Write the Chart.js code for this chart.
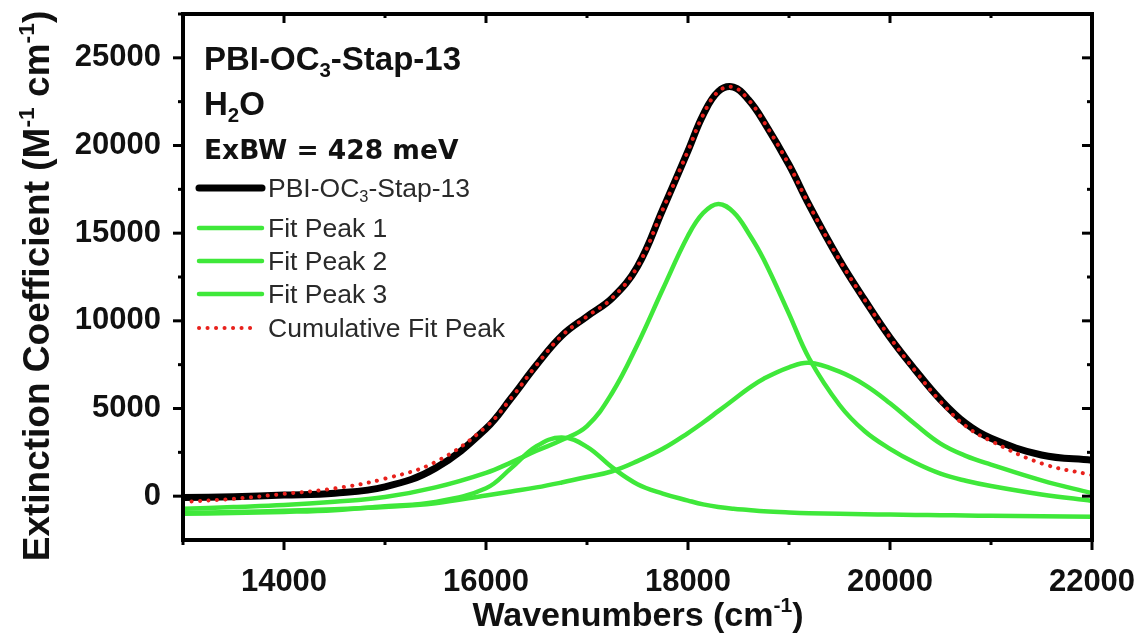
<!DOCTYPE html>
<html>
<head>
<meta charset="utf-8">
<script src="https://cdn.jsdelivr.net/npm/chart.js@4.4.0/dist/chart.umd.min.js"></script>
<style>
  html, body { margin: 0; padding: 0; background: #fff; }
  canvas { display: block; }
</style>
</head>
<body>
<canvas id="mycanvas" width="1140" height="636" style="width:1140px;height:636px"></canvas>
<script>
// values
var wavenumbers = [13000, 13500, 14000, 14500, 15000, 15500, 16000, 16250, 16500, 16750, 17000, 17250, 17500, 17750,
                   18000, 18150, 18300, 18450, 18600, 18750, 19000, 19200, 19500, 19750, 20000, 20250, 20500, 20750,
                   21000, 21500, 22000];
var measured   = [-80, -30, 60, 170, 530, 1600, 3850, 5600, 7480, 9150, 10250, 11300, 13100, 16350,
                  19700, 21750, 23080, 23330, 22600, 21365, 18900, 16600, 13470, 11190, 9050, 7200, 5500, 4150,
                  3300, 2350, 2050];
var fitPeak1   = [-720, -620, -510, -320, -50, 500, 1330, 1930, 2590, 3200, 4000, 5900, 8650, 11800,
                  14850, 16150, 16670, 16200, 15000, 13500, 10400, 7850, 5200, 3700, 2700, 1900, 1280, 880,
                  580, 100, -270];
var fitPeak2   = [-1000, -960, -900, -800, -580, -330, 450, 1600, 2850, 3350, 2815, 1640, 685, 150,
                  -250, -470, -620, -720, -790, -860, -930, -970, -1000, -1030, -1050, -1070, -1085, -1100,
                  -1120, -1150, -1180];
var fitPeak3   = [-950, -900, -830, -740, -620, -400, 40, 270, 500, 780, 1090, 1420, 2000, 2700,
                  3600, 4200, 4850, 5500, 6150, 6700, 7350, 7610, 7100, 6350, 5300, 4100, 3000, 2300,
                  1800, 900, 170];
var cumulative = [-330, -150, 130, 440, 1000, 1950, 3950, 5600, 7480, 9150, 10250, 11300, 13100, 16350,
                  19700, 21750, 23080, 23330, 22600, 21365, 18900, 16600, 13470, 11190, 9050, 7150, 5400, 4000,
                  3150, 1870, 1200];
var xTicks = [14000, 16000, 18000, 20000, 22000];
var yTicks = [0, 5000, 10000, 15000, 20000, 25000];

function pts(arr) {
  return wavenumbers.map(function(w, i) { return { x: w, y: arr[i] }; });
}

var GREEN = '#3fe83a';
var ARIAL = '"Liberation Sans", Arial, sans-serif';

// text with sub/superscripts: parts = [[text, 0 normal | 1 sub | 2 sup], ...]
function richText(ctx, parts, x, y, size, weight, family, align) {
  var w = 0, i;
  var small = size * 0.62;
  for (i = 0; i < parts.length; i++) {
    ctx.font = weight + ' ' + (parts[i][1] ? small : size) + 'px ' + family;
    w += ctx.measureText(parts[i][0]).width;
  }
  var cx = align === 'center' ? x - w / 2 : x;
  ctx.textAlign = 'left';
  ctx.textBaseline = 'alphabetic';
  for (i = 0; i < parts.length; i++) {
    var p = parts[i];
    ctx.font = weight + ' ' + (p[1] ? small : size) + 'px ' + family;
    var dy = p[1] === 1 ? size * 0.2 : (p[1] === 2 ? -size * 0.4 : 0);
    ctx.fillText(p[0], cx, y + dy);
    cx += ctx.measureText(p[0]).width;
  }
}

var decor = {
  id: 'decor',
  afterDraw: function(chart) {
    var ctx = chart.ctx, a = chart.chartArea;
    var xs = chart.scales.x, ys = chart.scales.y;
    ctx.save();
    ctx.strokeStyle = '#000';
    ctx.lineCap = 'butt';

    // ticks
    ctx.lineWidth = 3;
    var v, px, py, len;
    for (v = 13000; v <= 22000; v += 1000) {
      px = xs.getPixelForValue(v);
      len = (v % 2000 === 0) ? 10 : 5;
      ctx.beginPath(); ctx.moveTo(px, a.bottom); ctx.lineTo(px, a.bottom + len); ctx.stroke();
      ctx.beginPath(); ctx.moveTo(px, a.top); ctx.lineTo(px, a.top + len - 1); ctx.stroke();
    }
    for (v = 0; v <= 27500; v += 2500) {
      py = ys.getPixelForValue(v);
      len = (v % 5000 === 0) ? 10 : 5;
      ctx.beginPath(); ctx.moveTo(a.left, py); ctx.lineTo(a.left - len, py); ctx.stroke();
      ctx.beginPath(); ctx.moveTo(a.right, py); ctx.lineTo(a.right - len, py); ctx.stroke();
    }

    // frame
    ctx.lineWidth = 4;
    ctx.strokeRect(a.left, a.top, a.right - a.left, a.bottom - a.top);

    // axis titles
    ctx.fillStyle = '#111';
    richText(ctx, [['Wavenumbers (cm', 0], ['-1', 2], [')', 0]], 638, 626, 34, 'bold', ARIAL, 'center');
    ctx.save();
    ctx.translate(49, 286);
    ctx.rotate(-Math.PI / 2);
    richText(ctx, [['Extinction Coefficient (M', 0], ['-1', 2], [' cm', 0], ['-1', 2], [')', 0]], 0, 0, 37, 'bold', ARIAL, 'center');
    ctx.restore();

    // annotation
    richText(ctx, [['PBI-OC', 0], ['3', 1], ['-Stap-13', 0]], 204, 70, 33, 'bold', ARIAL);
    richText(ctx, [['H', 0], ['2', 1], ['O', 0]], 204, 115, 33, 'bold', ARIAL);
    richText(ctx, [['ExBW = 428 meV', 0]], 204, 159, 26.5, 'bold', '"DejaVu Sans", sans-serif');

    // legend
    var rows = [188, 228, 261, 294, 328];
    var names = [[['PBI-OC', 0], ['3', 1], ['-Stap-13', 0]], [['Fit Peak 1', 0]], [['Fit Peak 2', 0]], [['Fit Peak 3', 0]], [['Cumulative Fit Peak', 0]]];
    chart.data.datasets.forEach(function(ds, i) {
      var y = rows[i];
      ctx.save();
      ctx.strokeStyle = ds.borderColor;
      ctx.lineWidth = ds.borderWidth;
      ctx.lineCap = ds.borderCapStyle || 'round';
      ctx.setLineDash(ds.borderDash || []);
      ctx.beginPath();
      ctx.moveTo(199, y);
      ctx.lineTo(ds.borderDash ? 256 : 262, y);
      ctx.stroke();
      ctx.restore();
      ctx.fillStyle = '#2a2a2a';
      richText(ctx, names[i], 268, y + 9, 26.5, 'normal', ARIAL);
    });
    ctx.restore();
  }
};

var base = { pointRadius: 0, fill: false, tension: 0.4 };

var chartdata = {
  datasets: [
    Object.assign({ label: 'PBI-OC3-Stap-13', data: pts(measured), borderColor: '#000', borderWidth: 7, order: 5 }, base),
    Object.assign({ label: 'Fit Peak 1', data: pts(fitPeak1), borderColor: GREEN, borderWidth: 4.5, order: 4 }, base),
    Object.assign({ label: 'Fit Peak 2', data: pts(fitPeak2), borderColor: GREEN, borderWidth: 4.5, order: 3 }, base),
    Object.assign({ label: 'Fit Peak 3', data: pts(fitPeak3), borderColor: GREEN, borderWidth: 4.5, order: 2 }, base),
    Object.assign({ label: 'Cumulative Fit Peak', data: pts(cumulative), borderColor: '#e8211c', borderWidth: 4,
                    borderDash: [0.1, 8.4], borderCapStyle: 'round', order: 1 }, base)
  ]
};

var tickFont = { family: ARIAL, size: 31, weight: 'bold' };

function noPad(s) { s.paddingLeft = 0; s.paddingRight = 0; s.paddingTop = 0; s.paddingBottom = 0; }

new Chart(document.getElementById('mycanvas'), {
  type: 'line',
  data: chartdata,
  options: {
    responsive: false,
    animation: false,
    devicePixelRatio: 1,
    layout: { padding: { top: 14, right: 48, left: 0, bottom: 0 } },
    plugins: { legend: { display: false }, tooltip: { enabled: false } },
    scales: {
      x: {
        type: 'linear', min: 13000, max: 22000,
        afterBuildTicks: function(s) { s.ticks = xTicks.map(function(v) { return { value: v }; }); },
        afterFit: function(s) { s.height = 96; noPad(s); },
        grid: { display: false }, border: { display: false },
        ticks: { font: tickFont, color: '#111', padding: 16, maxRotation: 0, autoSkip: false,
                 callback: function(v) { return String(v); } }
      },
      y: {
        type: 'linear', min: -2500, max: 27500,
        afterBuildTicks: function(s) { s.ticks = yTicks.map(function(v) { return { value: v }; }); },
        afterFit: function(s) { s.width = 183; noPad(s); },
        grid: { display: false }, border: { display: false },
        ticks: { font: tickFont, color: '#111', padding: 14, autoSkip: false,
                 callback: function(v) { return String(v); } }
      }
    }
  },
  plugins: [decor]
});
</script>
</body>
</html>
